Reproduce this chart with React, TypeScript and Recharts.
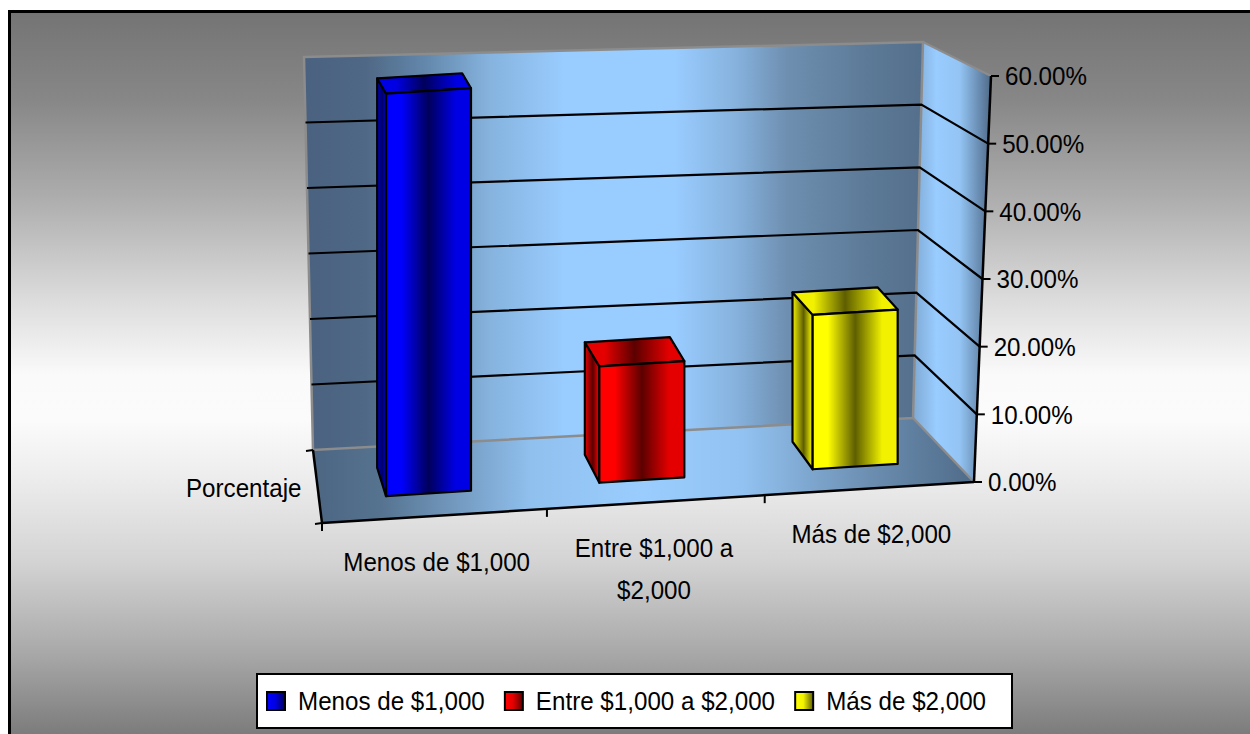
import React from 'react';
import { BarChart, Bar, XAxis, YAxis, CartesianGrid, Legend, Cell } from 'recharts';

// ---------- data ----------
const categories = ['Menos de $1,000', 'Entre $1,000 a $2,000', 'Más de $2,000'];
const porcentaje = [0.592, 0.171, 0.227];
const yTicks = [0, 0.1, 0.2, 0.3, 0.4, 0.5, 0.6];
const seriesName = 'Porcentaje';
const barLight = ['#0000ff', '#ff0000', '#ffff00'];
const barDark = ['#00005c', '#5c0000', '#5e5e00'];
const barMid = ['#0000e4', '#e40000', '#f2f200'];

const data = categories.map((c, i) => ({ category: c, value: porcentaje[i] }));

// ---------- layout ----------
const W = 1250;
const H = 734;
const M = { top: 72, right: 0, bottom: 194, left: 322 };
const X_AXIS_H = 60;
const Y_AXIS_W = 288;
const PL = M.left;
const PR = W - M.right - Y_AXIS_W;
const PT = M.top;
const PB = H - M.bottom - X_AXIS_H;
const Y_MAX = 0.6;
const FONT = "'Liberation Sans', Arial, Helvetica, sans-serif";
const FS = 26;
const SX = 0.93;
const SHEAR = -0.063;
const XC = 642;

type P = { x: number; y: number };
const BTL: P = { x: 304, y: 57 };
const BTR: P = { x: 923, y: 42 };
const BBR: P = { x: 913, y: 418 };
const BBL: P = { x: 313, y: 450 };
const FTR: P = { x: 991, y: 76 };
const FBR: P = { x: 974, y: 482 };
const FBL: P = { x: 322, y: 523 };

const lerp = (a: P, b: P, t: number): P => ({ x: a.x + (b.x - a.x) * t, y: a.y + (b.y - a.y) * t });
const pts = (arr: P[]) => arr.map((p) => `${p.x},${p.y}`).join(' ');
const fmt = (v: number) => `${(v * 100).toFixed(2)}%`;

const measure = (s: string) => {
  try {
    const ctx = document.createElement('canvas').getContext('2d');
    if (ctx) {
      ctx.font = `${FS}px 'Liberation Sans'`;
      return ctx.measureText(s).width;
    }
  } catch (e) {
    /* ignore */
  }
  return s.length * FS * 0.52;
};

const wrap = (s: string, max: number) => {
  const words = s.split(' ');
  const lines: string[] = [];
  let cur = '';
  words.forEach((w) => {
    const next = cur ? `${cur} ${w}` : w;
    if (next.length > max && cur) {
      lines.push(cur);
      cur = w;
    } else cur = next;
  });
  if (cur) lines.push(cur);
  return lines;
};

// ---------- walls (decoration) ----------
const Walls = () => {
  const catTicks = [0, 0.345, 0.679];
  return (
    <svg width={W} height={H} style={{ position: 'absolute', left: 0, top: 0 }}>
      <defs>
        <linearGradient id="wallGrad" gradientUnits="userSpaceOnUse" x1={BTL.x} y1={0} x2={BTR.x} y2={0}>
          <stop offset="0" stopColor="#4a6280" />
          <stop offset="0.1" stopColor="#4f6885" />
          <stop offset="0.2" stopColor="#6489ad" />
          <stop offset="0.3" stopColor="#86b3de" />
          <stop offset="0.42" stopColor="#99ccff" />
          <stop offset="0.6" stopColor="#99ccff" />
          <stop offset="0.7" stopColor="#86b1dc" />
          <stop offset="0.78" stopColor="#6e8fb0" />
          <stop offset="0.93" stopColor="#5a7794" />
          <stop offset="1" stopColor="#546f8c" />
        </linearGradient>
        <linearGradient id="floorGrad" gradientUnits="userSpaceOnUse" x1={BBL.x} y1={0} x2={FBR.x} y2={0}>
          <stop offset="0" stopColor="#4c6682" />
          <stop offset="0.1" stopColor="#55728f" />
          <stop offset="0.33" stopColor="#90c0ee" />
          <stop offset="0.5" stopColor="#9acdfe" />
          <stop offset="0.65" stopColor="#92c2f1" />
          <stop offset="0.85" stopColor="#6a8cae" />
          <stop offset="1" stopColor="#4f6b89" />
        </linearGradient>
        <linearGradient id="sideGrad" gradientUnits="userSpaceOnUse" x1={BBR.x} y1={0} x2={FTR.x} y2={0}>
          <stop offset="0" stopColor="#7fa9d4" />
          <stop offset="0.3" stopColor="#99ccff" />
          <stop offset="0.6" stopColor="#93c4f4" />
          <stop offset="1" stopColor="#4f6a88" />
        </linearGradient>
      </defs>
      <polygon points={pts([BTL, BTR, BBR, BBL])} fill="url(#wallGrad)" />
      <polygon points={pts([BTR, FTR, FBR, BBR])} fill="url(#sideGrad)" />
      <polygon points={pts([BBL, BBR, FBR, FBL])} fill="url(#floorGrad)" />
      <polygon points={pts([BTL, BTR, BBR, BBL])} fill="none" stroke="#8c8c8c" strokeWidth={2.5} />
      <polyline points={pts([BTR, FTR])} fill="none" stroke="#8c8c8c" strokeWidth={2} />
      <polyline points={pts([BBR, FBR])} fill="none" stroke="#8c8c8c" strokeWidth={2.5} />
      {/* category axis (floor front edge) */}
      <polyline points={pts([FBL, FBR])} fill="none" stroke="#000" strokeWidth={2.5} />
      {catTicks.map((t, i) => {
        const p = lerp(FBL, FBR, t);
        return <line key={i} x1={p.x} y1={p.y} x2={p.x} y2={p.y + 8} stroke="#000" strokeWidth={2} />;
      })}
      {/* depth axis */}
      <polyline points={pts([BBL, FBL])} fill="none" stroke="#000" strokeWidth={2.5} />
      <line x1={BBL.x} y1={BBL.y} x2={BBL.x - 7} y2={BBL.y + 1} stroke="#000" strokeWidth={2} />
      <line x1={FBL.x} y1={FBL.y} x2={FBL.x - 7} y2={FBL.y + 1} stroke="#000" strokeWidth={2} />
      {/* value axis */}
      <polyline points={pts([FBR, FTR])} fill="none" stroke="#000" strokeWidth={2.5} />
      <text
        transform={`translate(${(BBL.x + FBL.x) / 2 - 16},${(BBL.y + FBL.y) / 2 + 10}) scale(${SX},1)`}
        textAnchor="end"
        fontFamily={FONT}
        fontSize={FS}
        fill="#000"
      >
        {seriesName}
      </text>
    </svg>
  );
};

// ---------- grid line on back & right wall ----------
const GridLine = (props: any) => {
  const { y1 } = props;
  const f = (PB - y1) / (PB - PT);
  if (!(f > 0.01 && f < 0.99)) return <g key={props.key} />;
  const bl = lerp(BBL, BTL, f);
  const br = lerp(BBR, BTR, f);
  const fr = lerp(FBR, FTR, f);
  return <polyline key={props.key} points={pts([bl, br, fr])} fill="none" stroke="#000" strokeWidth={2.2} />;
};

// ---------- axis ticks ----------
const YTick = (props: any) => {
  const { payload } = props;
  const v = Number(payload.value);
  const p = lerp(FBR, FTR, v / Y_MAX);
  return (
    <g>
      <line x1={p.x} y1={p.y} x2={p.x + 8} y2={p.y} stroke="#000" strokeWidth={2} />
      <text
        transform={`translate(${p.x + 14},${p.y + 9.3}) scale(${SX},1)`}
        fontFamily={FONT}
        fontSize={FS}
        fill="#000"
      >
        {fmt(v)}
      </text>
    </g>
  );
};

const XTick = (props: any) => {
  const { x, payload } = props;
  const xl = FBL.x + ((x - PL) * (FBR.x - FBL.x)) / (PR - PL) + 6;
  const yf = FBL.y + ((FBR.y - FBL.y) * (xl - FBL.x)) / (FBR.x - FBL.x);
  const lines = wrap(String(payload.value), 15);
  return (
    <g>
      {lines.map((ln, i) => (
        <text
          key={i}
          transform={`translate(${xl},${yf + 55 + i * 42}) scale(${SX},1)`}
          textAnchor="middle"
          fontFamily={FONT}
          fontSize={FS}
          fill="#000"
        >
          {ln}
        </text>
      ))}
    </g>
  );
};

// ---------- 3D bar ----------
const Bar3D = (props: any) => {
  const { x, y, width, height, payload } = props;
  if (width == null || height == null || !payload) return null;
  const i = Math.max(0, categories.indexOf(payload.category));
  const cx = x + width / 2;
  const t = (cx - PL) / (PR - PL);
  const dx = -6 - 17 * t;
  // depth foreshortening depends on height in the picture (eye level above the chart)
  const dyAt = (py: number) => -15 - 0.033 * (py - 90);
  const sh = (px: number, py: number): P => ({ x: px, y: py + SHEAR * (px - XC) });
  const fTL = sh(x, y);
  const fTR = sh(x + width, y);
  const fBR = sh(x + width, y + height);
  const fBL = sh(x, y + height);
  const bk = (p: P): P => ({ x: p.x + dx, y: p.y + dyAt(p.y) });
  const id = `b3d${i}`;
  const L = barLight[i];
  const D = barDark[i];
  const Mi = barMid[i];
  return (
    <g>
      <defs>
        <linearGradient id={`${id}f`} x1="0" y1="0" x2="1" y2="0">
          <stop offset="0" stopColor={L} />
          <stop offset="0.18" stopColor={L} />
          <stop offset="0.5" stopColor={D} />
          <stop offset="0.82" stopColor={Mi} />
          <stop offset="1" stopColor={Mi} />
        </linearGradient>
        <linearGradient id={`${id}t`} x1="0" y1="0" x2="1" y2="0">
          <stop offset="0" stopColor={Mi} />
          <stop offset="0.2" stopColor={Mi} />
          <stop offset="0.5" stopColor={D} />
          <stop offset="0.85" stopColor={Mi} />
          <stop offset="1" stopColor={Mi} />
        </linearGradient>
        <linearGradient id={`${id}s`} x1="0" y1="0" x2="1" y2="0">
          <stop offset="0" stopColor={Mi} />
          <stop offset="0.55" stopColor={D} />
          <stop offset="1" stopColor={L} />
        </linearGradient>
      </defs>
      <polygon
        points={pts([fTL, bk(fTL), bk(fBL), fBL])}
        fill={`url(#${id}s)`}
        stroke="#000"
        strokeWidth={2.2}
        strokeLinejoin="round"
      />
      <polygon
        points={pts([fTL, fTR, bk(fTR), bk(fTL)])}
        fill={`url(#${id}t)`}
        stroke="#000"
        strokeWidth={2.2}
        strokeLinejoin="round"
      />
      <polygon
        points={pts([fTL, fTR, fBR, fBL])}
        fill={`url(#${id}f)`}
        stroke="#000"
        strokeWidth={2.2}
        strokeLinejoin="round"
      />
    </g>
  );
};

// ---------- legend ----------
const LegendContent = () => {
  let cur = 10;
  const items = categories.map((c, i) => {
    const sq = cur;
    const tx = cur + 32;
    const w = measure(c) * SX;
    cur = tx + w + 19;
    return { c, i, sq, tx };
  });
  return (
    <svg width={757} height={56} style={{ display: 'block' }}>
      <defs>
        {categories.map((c, i) => (
          <linearGradient key={c} id={`lg${i}`} x1="0" y1="0" x2="1" y2="0">
            <stop offset="0" stopColor={barLight[i]} />
            <stop offset="0.45" stopColor={barMid[i]} />
            <stop offset="1" stopColor={barDark[i]} />
          </linearGradient>
        ))}
      </defs>
      <rect x={1} y={1} width={755} height={54} fill="#fff" stroke="#000" strokeWidth={2} />
      {items.map((it) => (
        <g key={it.c}>
          <rect x={it.sq + 1} y={19} width={18} height={18} fill={`url(#lg${it.i})`} stroke="#000" strokeWidth={2} />
          <text
            transform={`translate(${it.tx},37.3) scale(${SX},1)`}
            fontFamily={FONT}
            fontSize={FS}
            fill="#000"
          >
            {it.c}
          </text>
        </g>
      ))}
    </svg>
  );
};

const frameBg =
  'linear-gradient(to bottom, #747474 0px, #878787 87px, #aeaeae 187px, #dcdcdc 287px, #fafafa 362px, #fbfbfb 407px, #ececec 467px, #d4d4d4 547px, #aaaaaa 637px, #7c7c7c 721px, #787878 760px)';

export default function App() {
  return (
    <div
      style={{
        position: 'absolute',
        left: 0,
        top: 0,
        width: W,
        height: H,
        overflow: 'hidden',
        background: '#fff',
      }}
    >
      <div
        style={{
          position: 'absolute',
          left: 8,
          top: 10,
          width: 1260,
          height: 760,
          border: '3px solid #000',
          background: frameBg,
        }}
      />
      <Walls />
      <div style={{ position: 'absolute', left: 0, top: 0 }}>
        <BarChart width={W} height={H} data={data} margin={M} barCategoryGap="30%">
          <CartesianGrid horizontal={GridLine} vertical={false} />
          <XAxis
            dataKey="category"
            height={X_AXIS_H}
            axisLine={false}
            tickLine={false}
            interval={0}
            tick={<XTick />}
          />
          <YAxis
            orientation="right"
            width={Y_AXIS_W}
            domain={[0, Y_MAX]}
            ticks={yTicks}
            axisLine={false}
            tickLine={false}
            tick={<YTick />}
          />
          <Legend
            layout="horizontal"
            verticalAlign="middle"
            align="center"
            wrapperStyle={{ left: 256, top: 673, width: 757, height: 56 }}
            content={<LegendContent />}
          />
          <Bar dataKey="value" name={seriesName} shape={<Bar3D />} isAnimationActive={false}>
            {data.map((d, i) => (
              <Cell key={d.category} fill={barLight[i]} />
            ))}
          </Bar>
        </BarChart>
      </div>
    </div>
  );
}
